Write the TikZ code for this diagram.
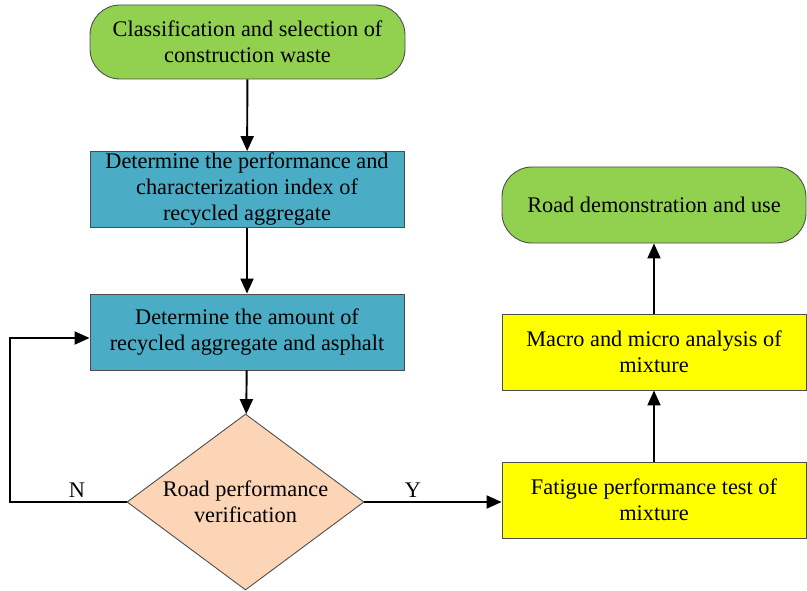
\documentclass[tikz,border=0pt]{standalone}
\usepackage{fontspec}
\setmainfont{Liberation Serif}
\usepackage{tikz}
\usetikzlibrary{arrows.meta, positioning, shapes.geometric}
\usepackage{xcolor}
\definecolor{termgreen}{HTML}{92D050}
\definecolor{procblue}{HTML}{4BACC6}
\definecolor{decpeach}{HTML}{FBD5B5}
\definecolor{testyellow}{HTML}{FFFF00}

\begin{document}
\begin{tikzpicture}[
    font=\fontsize{12.7}{14.8}\selectfont,
    box/.style={draw=black!70, line width=0.5pt, align=center, inner sep=0pt},
    terminal/.style={box, fill=termgreen, rounded corners=0.6cm},
    procbox/.style={box, fill=procblue},
    testbox/.style={box, fill=testyellow},
    check/.style={box, diamond, fill=decpeach, aspect=1.35},
    arr/.style={-{Triangle[length=0.3cm,width=0.26cm]}, line width=1.1pt}
  ]
  \useasboundingbox (0,0) rectangle (16.14,11.8);
  % linke Spalte
  \node[terminal, minimum width=6.3cm, minimum height=1.48cm] (waste) at (4.95,10.96)
    {Classification and selection of\\construction waste};
  \node[procbox, minimum width=6.28cm, minimum height=1.52cm] (index) at (4.94,8.01)
    {Determine the performance and\\characterization index of\\recycled aggregate};
  \node[procbox, minimum width=6.28cm, minimum height=1.52cm] (amount) at (4.94,5.16)
    {Determine the amount of\\recycled aggregate and asphalt};
  \node[check, minimum width=4.74cm, minimum height=3.52cm] (verify) at (4.91,1.76)
    {Road performance\\verification};
  % rechte Spalte
  \node[testbox, minimum width=6.08cm, minimum height=1.52cm] (fatigue) at (13.08,1.8)
    {Fatigue performance test of\\mixture};
  \node[testbox, minimum width=6.08cm, minimum height=1.52cm] (macro) at (13.08,4.76)
    {Macro and micro analysis of\\mixture};
  \node[terminal, minimum width=6.08cm, minimum height=1.52cm] (road) at (13.08,7.7)
    {Road demonstration and use};
  % Pfeile
  \draw[arr] (waste) -- (index);
  \draw[arr] (index) -- (amount);
  \draw[arr] (amount) -- (verify);
  \draw[arr] (verify.west) -- ++(-2.34,0) |- ([yshift=-0.12cm]amount.west);
  \draw[arr] (verify.east) -- (verify.east -| fatigue.west);
  \draw[arr] (fatigue) -- (macro);
  \draw[arr] (macro) -- (road);
  \node (nlab) at (1.54,2.0) {N};
  \node (ylab) at (8.26,2.0) {Y};
\end{tikzpicture}
\end{document}
